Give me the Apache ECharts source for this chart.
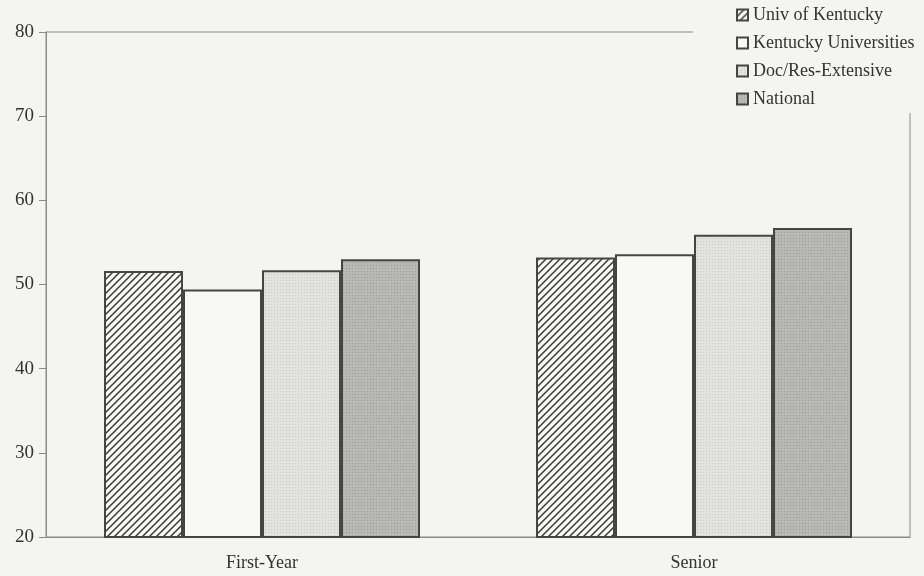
<!DOCTYPE html>
<html>
<head>
<meta charset="utf-8">
<script src="https://cdn.jsdelivr.net/npm/echarts@6/dist/echarts.min.js"></script>
<style>
html,body{margin:0;padding:0;background:#f4f4f2;}
#chart{width:924px;height:576px;}
</style>
</head>
<body>
<div id="chart"></div>
<script>
const categories = ['First-Year', 'Senior'];
const seriesNames = ['Univ of Kentucky', 'Kentucky Universities', 'Doc/Res-Extensive', 'National'];
const univKentucky = [51.6, 53.2];
const kentuckyUniversities = [49.4, 53.6];
const docResExtensive = [51.7, 55.9];
const national = [53.0, 56.7];
const yTicks = [20, 30, 40, 50, 60, 70, 80];

function hatch() {
  const c = document.createElement('canvas');
  const s = 7;
  c.width = s; c.height = s;
  const g = c.getContext('2d');
  g.fillStyle = '#f8f8f6';
  g.fillRect(0, 0, s, s);
  g.strokeStyle = '#3a3a3a';
  g.lineWidth = 1.5;
  g.beginPath();
  g.moveTo(-1, s + 1); g.lineTo(s + 1, -1);
  g.moveTo(-1, 1); g.lineTo(1, -1);
  g.moveTo(s - 1, s + 1); g.lineTo(s + 1, s - 1);
  g.stroke();
  return c;
}
function dots(bg, dot) {
  const c = document.createElement('canvas');
  c.width = 3; c.height = 3;
  const g = c.getContext('2d');
  g.fillStyle = bg; g.fillRect(0, 0, 3, 3);
  g.fillStyle = dot; g.fillRect(1, 1, 1, 1);
  return c;
}

const fills = [
  { image: hatch(), repeat: 'repeat' },
  '#f8f8f6',
  { image: dots('#e2e2e0', '#c8c8c6'), repeat: 'repeat' },
  { image: dots('#b8b8b6', '#9a9a98'), repeat: 'repeat' }
];
const dataArrays = [univKentucky, kentuckyUniversities, docResExtensive, national];

const font = 'Liberation Serif, Times New Roman, serif';
const chart = echarts.init(document.getElementById('chart'));
chart.setOption({
  backgroundColor: '#f4f4f2',
  animation: false,
  grid: { left: 46, right: 14, top: 32, bottom: 39, show: true, borderColor: '#8a8a8a', borderWidth: 1, backgroundColor: 'transparent' },
  legend: {
    orient: 'vertical',
    left: 693, top: 0,
    padding: [6, 40, 5, 43],
    backgroundColor: '#f4f4f2',
    itemWidth: 11, itemHeight: 11,
    itemGap: 10,
    icon: 'rect',
    textStyle: { fontFamily: font, fontSize: 18, color: '#333', lineHeight: 18 },
    data: seriesNames
  },
  xAxis: {
    type: 'category',
    data: categories,
    axisTick: { show: false },
    axisLine: { lineStyle: { color: '#8a8a8a', width: 1 } },
    axisLabel: { fontFamily: font, fontSize: 18, color: '#333', margin: 17 }
  },
  yAxis: {
    type: 'value',
    min: yTicks[0], max: yTicks[yTicks.length - 1], interval: 10,
    axisLine: { show: true, lineStyle: { color: '#8a8a8a', width: 1 } },
    axisTick: { show: true, length: 7, lineStyle: { color: '#8a8a8a' } },
    splitLine: { show: false },
    axisLabel: { fontFamily: font, fontSize: 19, color: '#333', margin: 12 }
  },
  series: seriesNames.map((name, i) => ({
    name: name,
    type: 'bar',
    data: dataArrays[i],
    barWidth: 79,
    barGap: '0%',
    itemStyle: { color: fills[i], borderColor: '#454545', borderWidth: 2 }
  }))
});
</script>
</body>
</html>
